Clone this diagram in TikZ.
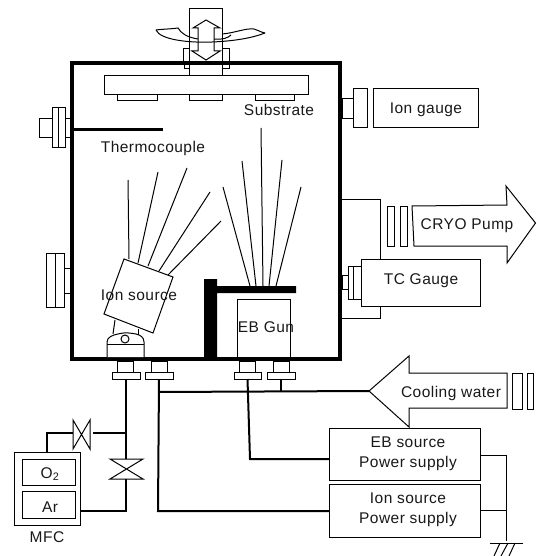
\documentclass[tikz,border=0pt]{standalone}
\usepackage{fontspec}
\setmainfont[LetterSpace=3]{Liberation Sans}
\newcommand{\bx}[6][]{%
  \pgfmathsetmacro{\cxx}{(#3+#5)/2}\pgfmathsetmacro{\cyy}{(#4+#6)/2}%
  \pgfmathsetmacro{\wdd}{abs(#5-#3)}\pgfmathsetmacro{\htt}{abs(#6-#4)}%
  \node[boxn,minimum width=\wdd pt,minimum height=\htt pt,#1] (#2) at (\cxx,\cyy) {};}
\tikzset{
  boxn/.style={draw=black,fill=white,line width=1pt,inner sep=0pt,outer sep=0pt},
  lbl/.style={font=\fontsize{15.5}{17}\selectfont,align=center,inner sep=0pt,text=black!90},
  thin line/.style={line width=1pt,black},
  pipe/.style={line width=2pt,black,line join=miter},
  beam/.style={line width=1pt,black}
}
\begin{document}
\begin{tikzpicture}[x=1pt,y=-1pt]
\useasboundingbox[fill=white] (0,0) rectangle (536,556);
% ---------- ports outside chamber
\bx{nkTL}{65}{119}{71}{138}
\bx{flTLa}{52}{108}{58}{148}
\bx{flTLb}{58}{108}{65}{148}
\bx{knTL}{39}{119}{52}{138}
\bx{nkL}{64}{268}{71}{293}
\bx{flLa}{46}{253}{55}{307}
\bx{flLb}{55}{253}{64}{307}
% top feedthrough
\bx{fta}{183}{49}{190}{62}
\bx{ftb}{184}{62}{190}{69}
\bx{ftc}{222}{49}{229}{62}
\bx{ftd}{222}{62}{229}{69}
\bx{shaft}{189}{9}{222}{76}
% rotating double arrow
\draw[boxn,fill=none,line join=miter] (206,20) -- (220,28) -- (214,28) -- (214,51) -- (220,51) -- (206,60) -- (192,51) -- (198,51) -- (198,28) -- (193,28) -- cycle;
% rotation swirl
\draw[thin line] (156,30) .. controls (163,29) and (172,29) .. (178,28) .. controls (181,33) and (186,37) .. (198,39);
\draw[thin line] (156,30) .. controls (160,40) and (190,43) .. (212,42) .. controls (235,41) and (252,38) .. (265,33);
\draw[thin line] (222,34) .. controls (235,33) and (245,28) .. (254,29) .. controls (258,30) and (260,32) .. (265,33);
\draw[thin line] (214,39) .. controls (222,40) and (228,38) .. (231,35);
% holder and substrates
\bx{subA}{117}{95}{157}{101}
\bx{subB}{189}{95}{222}{101}
\bx{subC}{255}{95}{294}{101}
\bx{holder}{104}{76}{308}{95}
% ---------- chamber
\node[draw=black,line width=4.2pt,minimum width=268pt,minimum height=296pt,inner sep=0pt,outer sep=0pt] (chamber) at (206,211) {};
% thermocouple
\coordinate (tcEnd) at (163,130);
\draw[line width=3pt] (71,130) -- (tcEnd);
% beams
\draw[beam] (128,180) -- (129,259);
\draw[beam] (158,172) -- (138,263);
\draw[beam] (187,168) -- (148,266);
\draw[beam] (210,192) -- (159,271);
\draw[beam] (221,221) -- (168,275);
\draw[beam] (223,187) -- (250,286);
\draw[beam] (242,161) -- (256,286);
\draw[beam] (261,128) -- (263,286);
\draw[beam] (282,160) -- (269,286);
\draw[beam] (301,187) -- (276,286);
% shield
\fill[black] (204,279) -- (217,279) -- (217,286) -- (296,286) -- (296,293) -- (217,293) -- (217,358) -- (204,358) -- cycle;
% EB gun
\bx{ebgun}{237}{299}{290}{357}
% ion source
\draw[thin line] (115,320) -- (113,334);
\draw[thin line] (138,329) -- (138,335);
\draw[boxn,fill=white] (124,259) -- (173,277) -- (153,333) -- (104,314) -- cycle;
\draw[boxn,fill=white] (107,357) -- (107,342) .. controls (107,337) and (113,335) .. (118,334) .. controls (125,332) and (130,333) .. (136,334) .. controls (140,335) and (144,337) .. (144,342) -- (144,357);
\draw[thin line] (107,344) -- (144,344);
\draw[boxn,fill=white] (125,339) circle (4);
\node[lbl] (ionsrc) at (139,295) {Ion source};
\node[lbl] (ebtxt) at (266,327) {EB Gun};
\node[lbl] (thermo) at (153,148) {Thermocouple};
\node[lbl] (substrate) at (279,110) {Substrate};
% ---------- bottom ports
\bx{nk1}{117}{361}{133}{372}
\bx{fl1}{112}{372}{140}{379}
\bx{nk2}{151}{361}{167}{372}
\bx{fl2}{145}{372}{173}{379}
\bx{nk3}{239}{361}{255}{372}
\bx{fl3}{234}{372}{261}{379}
\bx{nk4}{273}{361}{289}{372}
\bx{fl4}{267}{372}{295}{379}
% ---------- ion gauge
\bx{nkIG}{342}{99}{353}{119}
\bx{flIG}{353}{89}{367}{128}
\node[boxn,minimum width=105pt,minimum height=39pt] (iongauge) at (425.5,108.5) {};
\node[lbl] at (426,110) {Ion gauge};
% ---------- TC gauge and cryo pipe
\bx{nkTC}{342}{275}{348}{289}
\bx{flTCa}{348}{266}{353}{299}
\bx{flTCb}{353}{266}{361}{299}
\node[boxn,minimum width=119pt,minimum height=47pt] (tcgauge) at (420.5,282.5) {};
\node[lbl] at (421,281) {TC Gauge};
\coordinate (w1) at (342,199); \coordinate (w2) at (342,318);
\draw[thin line] (w1) -- (380,199) -- (380,259);
\draw[thin line] (380,306) -- (380,318) -- (w2);
% ---------- cryo arrow
\bx{crA}{387}{206}{394}{246}
\bx{crB}{400}{206}{407}{246}
\draw[boxn] (412,206) -- (507,205) -- (506,186) -- (535.5,223) -- (507,263) -- (507,246) -- (414,246) -- cycle;
\node[lbl] at (467,226) {CRYO Pump};
% ---------- cooling arrow
\coordinate (cwtip) at (369,391);
\draw[boxn] (cwtip) -- (409,356) -- (409,373) -- (507,373) -- (507,408) -- (409,408) -- (409,427) -- cycle;
\bx{cwA}{512}{373}{522}{409}
\bx{cwB}{527}{373}{533}{409}
\node[lbl] at (451,393) {Cooling water};
% ---------- power supplies
\node[boxn,minimum width=151pt,minimum height=52pt] (ebps) at (404.5,454) {};
\node[lbl] at (408,454) {EB source\\[2.5pt]Power supply};
\node[boxn,minimum width=151pt,minimum height=53pt] (ionps) at (404.5,510.5) {};
\node[lbl] at (408,510) {Ion source\\[2.5pt]Power supply};
% ground
\coordinate (gnd) at (506,541);
\coordinate (gl) at (490,543); \coordinate (gr) at (523,543);
\coordinate (ebOut) at (480,455); \coordinate (ionOut) at (480,510);
\draw[thin line] (ebOut) -- (506,455) -- (gnd);
\draw[thin line] (ionOut) -- (506,510);
\draw[thin line] (gl) -- (gr);
\draw[thin line] (500,543) -- (494,556) (508,543) -- (501,556) (515,543) -- (509,556);
% ---------- MFC
\node[boxn,minimum width=66pt,minimum height=73pt] (mfc) at (47,488.5) {};
\bx{otwo}{22}{459}{75}{485}
\bx{ar}{22}{491}{75}{518}
\node[lbl] at (50,474) {O\textsubscript{2}};
\node[lbl] at (50,507) {Ar};
\node[lbl] at (47,537) {MFC};
% valves
\coordinate (vAl) at (73,433); \coordinate (vAr) at (93,433);
\draw[boxn,fill=white] (73,420) -- (90,449) -- (90,420) -- (73,449) -- cycle;
\coordinate (vBt) at (126,459); \coordinate (vBb) at (126,479);
\draw[boxn,fill=white] (110,459) -- (143,459) -- (110,479) -- (143,479) -- cycle;
% pipes
\coordinate (jA) at (126,433);
\coordinate (ebIn) at (329,459); \coordinate (ionIn) at (329,511);
\draw[pipe] (fl1.south) -- (vBt);
\draw[pipe] (vAr) -- (jA);
\draw[pipe] (vAl) -- (47,433) -- (47,452);
\draw[pipe] (vBb) -- (126,511) -- (80,511);
\draw[pipe] (fl2.south) -- (158,511) -- (ionIn);
\draw[pipe] (158,392) -- (cwtip);
\draw[pipe] (fl3.south) -- (250,459) -- (ebIn);
\draw[pipe] (fl4.south) -- (281,391);
\end{tikzpicture}
\end{document}
